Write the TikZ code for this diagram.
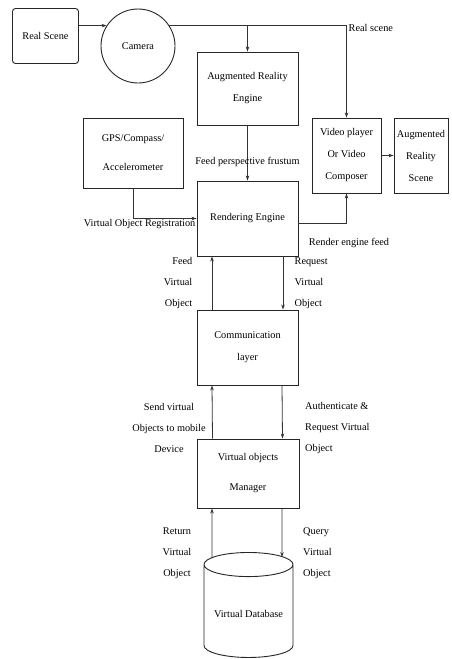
\documentclass[tikz,border=0pt]{standalone}
\usepackage{fontspec}
\setmainfont{Liberation Serif}
\usetikzlibrary{arrows.meta,shapes.geometric,calc}

\begin{document}
\begin{tikzpicture}[x=1pt, y=-1pt,
    every node/.style={font=\fontsize{10.3}{22}\selectfont},
    box/.style={draw=black!85, line width=0.9pt, align=center, inner sep=1pt},
    arr/.style={draw=black!80, line width=0.8pt, -{Stealth[length=5pt,width=3.5pt]}},
    lbl/.style={inner sep=0pt, font=\fontsize{10.3}{21}\selectfont}]
    \clip (0,0) rectangle (452,659);

    % Input
    \node[box, rounded corners=3pt, minimum width=66pt, minimum height=55pt] (real) at (45.5,36) {Real Scene};
    \node[box, circle, minimum size=74pt] (cam) at (138,46) {Camera};
    \node[box, minimum width=100pt, minimum height=70pt] (gps) at (133,153) {GPS/Compass/\\[7pt]Accelerometer};

    % Engines
    \node[box, minimum width=101pt, minimum height=73pt] (are) at (247.5,88.5) {Augmented Reality\\Engine};
    \node[box, minimum width=101pt, minimum height=75pt] (re) at (247.5,218.5) {Rendering Engine};
    \node[box, minimum width=101pt, minimum height=75pt] (cl) at (247.5,347.5) {Communication\\layer};
    \node[box, minimum width=102pt, minimum height=69pt] (vom) at (248,473.5) {Virtual objects\\[8pt]Manager};
    \node[box, cylinder, shape border rotate=90, aspect=0.34, minimum width=89pt, minimum height=105pt] (db) at (248.5,612.5) {\raisebox{-10pt}{Virtual Database}};

    % Output
    \node[box, minimum width=69pt, minimum height=75pt] (vid) at (346.5,155.5) {Video player\\Or Video\\Composer};
    \node[box, minimum width=54pt, minimum height=75pt] (scn) at (421,155.5) {Augmented\\Reality\\Scene};

    % Camera feed
    \coordinate (rs) at (vid.north |- cam.33);
    \draw[arr] (real.east |- cam.147) -- (cam.147);
    \draw[arr] (cam.33) -- (rs) -- (vid.north);
    \draw[arr] (are.north |- rs) -- (are.north);
    \node[anchor=west, inner sep=2pt] (rsl) at ([yshift=-2pt]rs) {Real scene};

    % Rendering
    \draw[arr] (are) -- (re);
    \node (fpf) at ($(are.south)!0.66!(re.north)$) {Feed perspective frustum};
    \draw[arr] (gps.south) |- (re.west);
    \node[anchor=north east, inner sep=1pt] (vor) at (re.west) {Virtual Object Registration};
    \draw[arr] ([yshift=-4.5pt]re.east) -| (vid.south);
    \node (ref) at (349,243) {Render engine feed};
    \draw[arr] (vid) -- (scn);

    % Engine <-> communication
    \draw[arr] ([xshift=-35.5pt]cl.north) -- ([xshift=-35.5pt]re.south);
    \draw[arr] ([xshift=35.5pt]re.south) -- ([xshift=35.5pt]cl.north);
    \node[lbl, anchor=east, align=right] (fvo) at ($(re.south west)!0.5!(cl.north west)+(-4,0)$) {Feed\\Virtual\\Object};
    \node[lbl, anchor=west, align=left] (rvo) at ($(re.south east)!0.5!(cl.north east)+(-4,0)$) {Request\\Virtual\\Object};

    % Communication <-> manager
    \draw[arr] ([xshift=-35.5pt]vom.north) -- ([xshift=-35.5pt]cl.south);
    \draw[arr] ([xshift=34.5pt]cl.south) -- ([xshift=34.5pt]vom.north);
    \node[lbl, align=center] (svo) at (169,428) {Send virtual\\Objects to mobile\\Device};
    \node[lbl, anchor=west, align=left] (arv) at (305,428) {Authenticate \&\\Request Virtual\\Object};

    % Manager <-> database
    \draw[arr] ([xshift=-36.5pt,yshift=-6.4pt]db.north) -- ([xshift=-36pt]vom.south);
    \draw[arr] ([xshift=34pt]vom.south) -- ([xshift=33.5pt,yshift=-5.1pt]db.north);
    \node[lbl, align=center] (rvo2) at (177,553) {Return\\Virtual\\Object};
    \node[lbl, anchor=west, align=left] (qvo) at (303,553) {Query\\Virtual\\Object};

\end{tikzpicture}
\end{document}
